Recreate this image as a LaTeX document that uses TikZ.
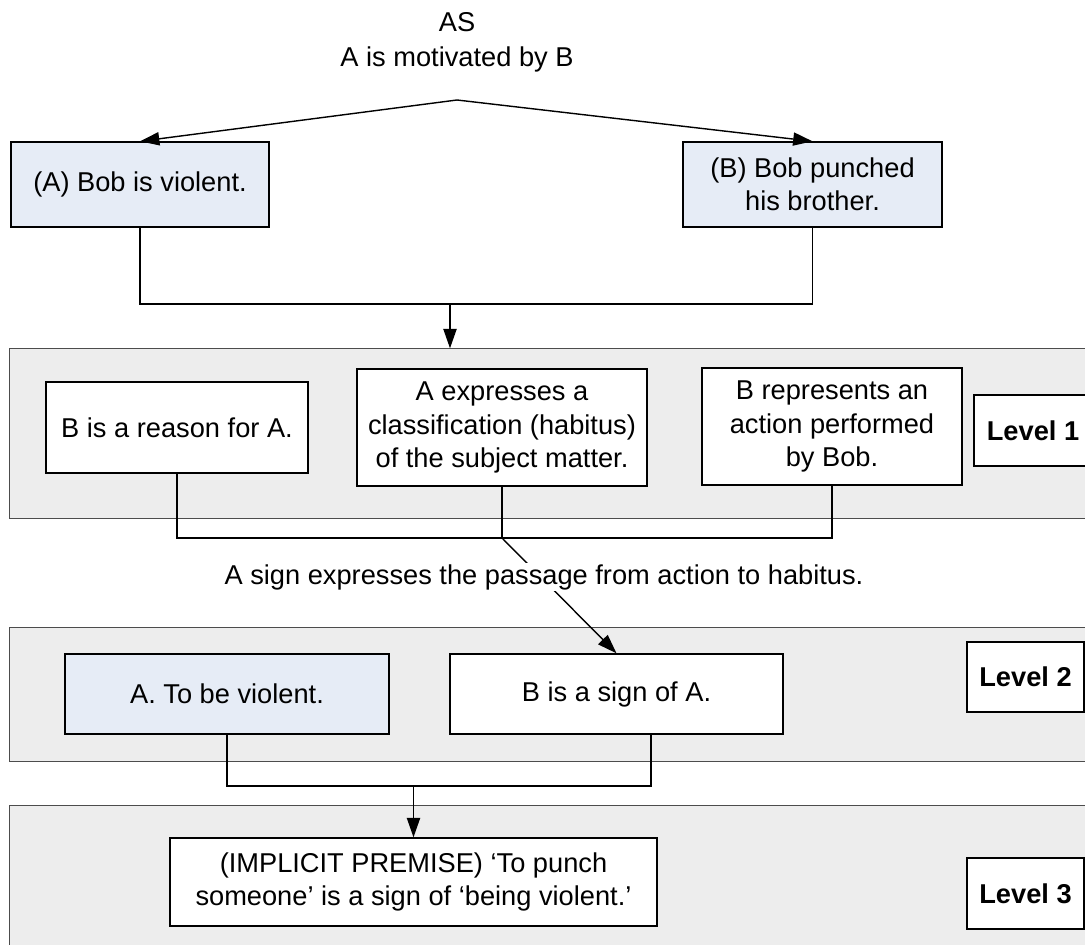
\documentclass[tikz,border=0pt]{standalone}
\usepackage{fontspec}
\setmainfont{Liberation Sans}
\usepackage{tikz}
\usetikzlibrary{arrows.meta,positioning}
\definecolor{boxblue}{HTML}{E6ECF6}
\definecolor{bandgray}{HTML}{EDEDED}

\begin{document}
\begin{tikzpicture}[x=0.02cm,y=-0.02cm,every path/.style={line width=0.8pt},
    font=\fontsize{15.5}{19}\selectfont]
  \tikzstyle{box} = [draw,fill=white,align=center,inner sep=2pt];
  \tikzstyle{given} = [box,fill=boxblue];
  \tikzstyle{lvl} = [box,font=\fontsize{15.5}{19}\selectfont\bfseries,minimum width=2.34cm];
  \tikzstyle{band} = [fill=bandgray,draw=none,inner sep=0pt,minimum width=21.7cm];
  \tikzstyle{bandline} = [draw=black!70];
  \tikzstyle{arr} = [-{Triangle[length=11pt,width=7.5pt]}];
  \useasboundingbox (0,0) rectangle (1085,945);
  \node[band,minimum height=3.38cm] (band1) at (552.5,433.5) {};
  \node[band,minimum height=2.66cm] (band2) at (552.5,694.5) {};
  \node[band,minimum height=3.08cm] (band3) at (552.5,883) {};
  \foreach \b in {band1,band2,band3}
    \draw[bandline] (\b.north east) -- (\b.north west) -- (\b.south west) -- (\b.south east);
  \node[align=center] (as) at (457,42) {AS\\[1pt]A is motivated by B};
  \coordinate (top) at (457,100);
  \node[given,minimum width=5.16cm,minimum height=1.7cm] (boxA) at (140,184.5) {(A) Bob is violent.};
  \node[given,minimum width=5.18cm,minimum height=1.7cm] (boxB) at (812.5,184.5) {(B) Bob punched\\his brother.};
  \node[box,minimum width=5.24cm,minimum height=1.82cm] (reason) at (177,427.5) {B is a reason for A.};
  \node[box,minimum width=5.8cm,minimum height=2.34cm] (express) at (502,427.5) {A expresses a\\classification (habitus)\\of the subject matter.};
  \node[box,minimum width=5.2cm,minimum height=2.34cm] (represents) at (832,426.5) {B represents an\\action performed\\by Bob.};
  \node[lvl,minimum width=2.36cm,minimum height=1.42cm] (lvl1) at (1033,430.5) {Level 1};
  \node[given,minimum width=6.48cm,minimum height=1.6cm] (violent) at (227,694) {A. To be violent.};
  \node[box,minimum width=6.66cm,minimum height=1.6cm] (sign) at (616.5,694) {B is a sign of A.};
  \node[lvl,minimum height=1.4cm] (lvl2) at (1025.5,677) {Level 2};
  \node[box,minimum width=9.74cm,minimum height=1.76cm] (premise) at (413.5,882) {(IMPLICIT PREMISE) `To punch\\someone' is a sign of `being violent.'};
  \node[lvl,minimum height=1.42cm] (lvl3) at (1025.5,893.5) {Level 3};
  \draw[arr] (top) -- (boxA.north);
  \draw[arr] (top) -- (boxB.north);
  \coordinate (j1) at (450,304);
  \draw (boxA.south) |- (j1) -| (boxB.south);
  \draw[arr] (j1) -- (j1 |- band1.north);
  \coordinate (j2) at (502,538);
  \draw (reason.south) |- (j2) -| (represents.south);
  \draw (express.south) -- (j2);
  \draw[arr] (j2) -- (sign.north);
  \node[fill=white,inner sep=1pt] (passage) at (544,577) {A sign expresses the passage from action to habitus.};
  \coordinate (j3) at (413.5,786);
  \draw (violent.south) |- (j3) -| ([xshift=0.69cm]sign.south);
  \draw[arr] (j3) -- (premise.north);
\end{tikzpicture}
\end{document}
